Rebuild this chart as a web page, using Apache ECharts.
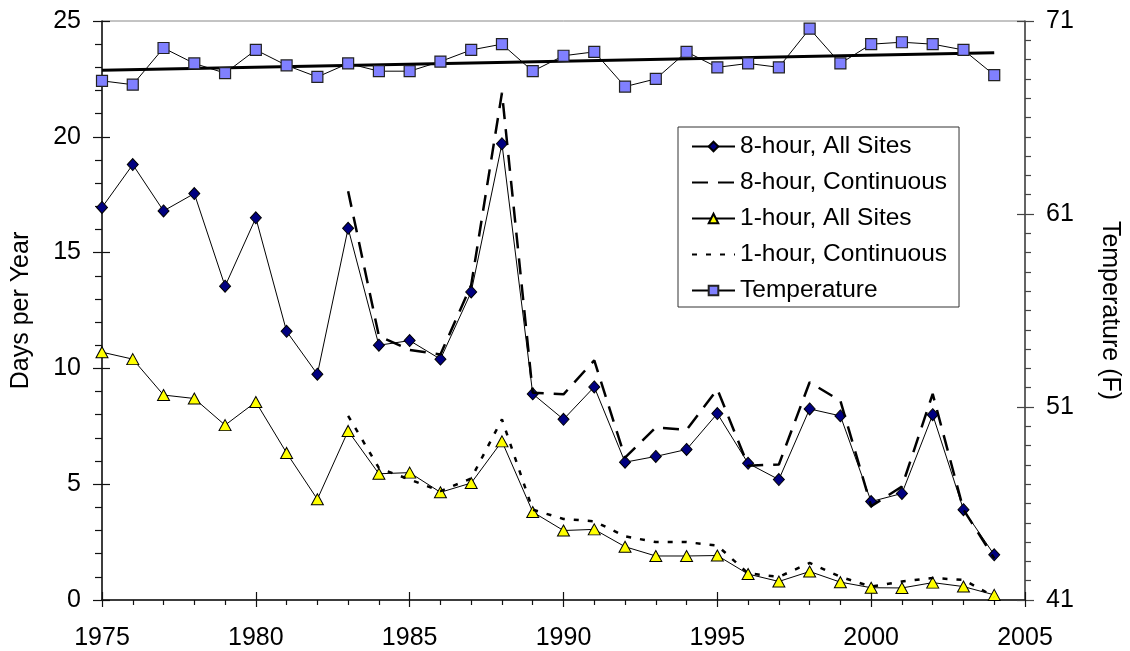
<!DOCTYPE html>
<html>
<head>
<meta charset="utf-8">
<script src="https://cdn.jsdelivr.net/npm/echarts@6/dist/echarts.min.js"></script>
<style>html,body{margin:0;padding:0;background:#fff}#c{width:1130px;height:651px}</style>
</head>
<body>
<div id="c"></div>
<script>
// ---- data ----
const years = [1975,1976,1977,1978,1979,1980,1981,1982,1983,1984,1985,1986,1987,1988,1989,1990,1991,1992,1993,1994,1995,1996,1997,1998,1999,2000,2001,2002,2003,2004];
const contYears = [1983,1984,1985,1986,1987,1988,1989,1990,1991,1992,1993,1994,1995,1996,1997,1998,1999,2000,2001,2002,2003,2004];
const eightAll = [16.95,18.8,16.8,17.55,13.55,16.5,11.6,9.75,16.05,11.0,11.2,10.4,13.3,19.7,8.9,7.8,9.2,5.95,6.2,6.5,8.05,5.9,5.2,8.25,7.95,4.25,4.6,8.0,3.9,1.95];
const eightCont = [17.65,11.4,10.8,10.6,13.6,21.9,8.95,8.88,10.35,6.15,7.45,7.35,9.1,5.8,5.85,9.4,8.6,4.05,4.9,8.9,3.9,1.8];
const oneAll = [10.7,10.4,8.85,8.7,7.55,8.55,6.35,4.35,7.3,5.45,5.5,4.65,5.05,6.85,3.8,3.0,3.05,2.3,1.9,1.9,1.92,1.12,0.8,1.23,0.77,0.53,0.52,0.75,0.58,0.22];
const oneCont = [7.95,5.7,5.2,4.7,5.25,7.8,3.9,3.5,3.4,2.75,2.5,2.5,2.35,1.15,1.0,1.6,1.0,0.58,0.8,0.95,0.87,0.15];
const temperature = [67.9,67.7,69.6,68.8,68.3,69.5,68.7,68.1,68.8,68.4,68.4,68.9,69.5,69.8,68.4,69.2,69.4,67.6,68.0,69.4,68.6,68.8,68.6,70.6,68.8,69.8,69.9,69.8,69.5,68.2];
const trendYears = [1975, 2004];
const trendTemp = [68.45, 69.35];
const seriesNames = ['8-hour, All Sites','8-hour, Continuous','1-hour, All Sites','1-hour, Continuous','Temperature'];
const leftName = 'Days per Year';
const rightName = 'Temperature (F)';

const pairs = (xs, ys) => xs.map((x, i) => [x, ys[i]]);
const FONT = 'Liberation Sans, Arial, sans-serif';
const CLEAR = 'rgba(0,0,0,0)';

const chart = echarts.init(document.getElementById('c'), null, {renderer: 'canvas'});
const hiddenAxisCommon = {axisLine:{show:false}, axisLabel:{show:false}, splitLine:{show:false}};
chart.setOption({
  animation: false,
  backgroundColor: '#fff',
  grid: {left: 102, right: 101, top: 21, bottom: 51, show: true, borderColor: '#888', borderWidth: 1, backgroundColor: 'transparent'},
  legend: {
    orient: 'vertical', left: 678, top: 127,
    data: [
      {name: seriesNames[0]},
      {name: seriesNames[1], itemStyle: {color: CLEAR, borderColor: CLEAR, borderWidth: 0}},
      {name: seriesNames[2]},
      {name: seriesNames[3], itemStyle: {color: CLEAR, borderColor: CLEAR, borderWidth: 0}},
      {name: seriesNames[4]}
    ],
    itemWidth: 43, itemHeight: 12, itemGap: 11,
    padding: [7, 12, 4, 13],
    borderColor: '#333', borderWidth: 1, backgroundColor: '#fff',
    textStyle: {fontFamily: FONT, fontSize: 24.5, color: '#000'}
  },
  xAxis: [{
    type: 'value', min: 1975, max: 2005, interval: 5,
    axisLine: {show: true, onZero: false, lineStyle: {color: '#111', width: 1.5}},
    axisTick: {show: true, inside: false, length: 7, lineStyle: {color: '#111', width: 1.2}},
    minorTick: {show: true, splitNumber: 5, length: 5, lineStyle: {color: '#111', width: 1.2}},
    axisLabel: {fontFamily: FONT, fontSize: 25, color: '#000', margin: 26, formatter: v => String(v)},
    splitLine: {show: false}
  }, Object.assign({
    type: 'value', min: 1975, max: 2005, interval: 5, position: 'bottom',
    axisTick: {show: true, inside: true, length: 8, lineStyle: {color: '#111', width: 1.2}}
  }, hiddenAxisCommon)],
  yAxis: [{
    type: 'value', min: 0, max: 25, interval: 5, position: 'left',
    name: leftName, nameLocation: 'middle', nameGap: 68,
    nameTextStyle: {fontFamily: FONT, fontSize: 25, color: '#000'},
    axisLine: {show: true, lineStyle: {color: '#111', width: 1.5}},
    axisTick: {show: true, inside: false, length: 9, lineStyle: {color: '#111', width: 1.2}},
    minorTick: {show: true, splitNumber: 5, length: 7, lineStyle: {color: '#111', width: 1.2}},
    axisLabel: {fontFamily: FONT, fontSize: 25, color: '#000', margin: 21},
    splitLine: {show: false}
  }, {
    type: 'value', min: 41, max: 71, interval: 10, position: 'right',
    name: rightName, nameLocation: 'middle', nameGap: 72, nameRotate: -90,
    nameTextStyle: {fontFamily: FONT, fontSize: 25, color: '#000'},
    axisLine: {show: true, lineStyle: {color: '#444', width: 1.5}},
    axisTick: {show: true, inside: false, length: 9, lineStyle: {color: '#444', width: 1.2}},
    minorTick: {show: true, splitNumber: 10, length: 6, lineStyle: {color: '#444', width: 1.2}},
    axisLabel: {fontFamily: FONT, fontSize: 25, color: '#000', margin: 21},
    splitLine: {show: false}
  }, Object.assign({
    type: 'value', min: 0, max: 25, interval: 5, position: 'left',
    axisTick: {show: true, inside: true, length: 8, lineStyle: {color: '#111', width: 1.2}}
  }, hiddenAxisCommon), Object.assign({
    type: 'value', min: 41, max: 71, interval: 10, position: 'right',
    axisTick: {show: true, inside: true, length: 8, lineStyle: {color: '#444', width: 1.2}}
  }, hiddenAxisCommon)],
  series: [
    {
      name: 'trend', type: 'line', yAxisIndex: 1, data: pairs(trendYears, trendTemp),
      symbol: 'none', lineStyle: {color: '#000', width: 3}, z: 2, silent: true
    },
    {
      name: seriesNames[4], type: 'line', yAxisIndex: 1, data: pairs(years, temperature),
      symbol: 'rect', symbolSize: 11,
      itemStyle: {color: '#8080FF', borderColor: '#222', borderWidth: 1.2},
      lineStyle: {color: '#000', width: 1}, z: 3
    },
    {
      name: seriesNames[0], type: 'line', yAxisIndex: 0, data: pairs(years, eightAll),
      symbol: 'diamond', symbolSize: [11, 12],
      itemStyle: {color: '#000080', borderColor: '#000', borderWidth: 1},
      lineStyle: {color: '#000', width: 1}, z: 4
    },
    {
      name: seriesNames[1], type: 'line', yAxisIndex: 0, data: pairs(contYears, eightCont),
      symbol: 'none',
      itemStyle: {color: CLEAR, borderColor: CLEAR},
      lineStyle: {color: '#000', width: 2.5, type: [16, 10]}, z: 5
    },
    {
      name: seriesNames[2], type: 'line', yAxisIndex: 0, data: pairs(years, oneAll),
      symbol: 'triangle', symbolSize: [12, 11],
      itemStyle: {color: '#FFFF00', borderColor: '#000', borderWidth: 1},
      lineStyle: {color: '#000', width: 1}, z: 4
    },
    {
      name: seriesNames[3], type: 'line', yAxisIndex: 0, data: pairs(contYears, oneCont),
      symbol: 'none',
      itemStyle: {color: CLEAR, borderColor: CLEAR},
      lineStyle: {color: '#000', width: 2.5, type: [5, 9]}, z: 5
    }
  ]
});
</script>
</body>
</html>
